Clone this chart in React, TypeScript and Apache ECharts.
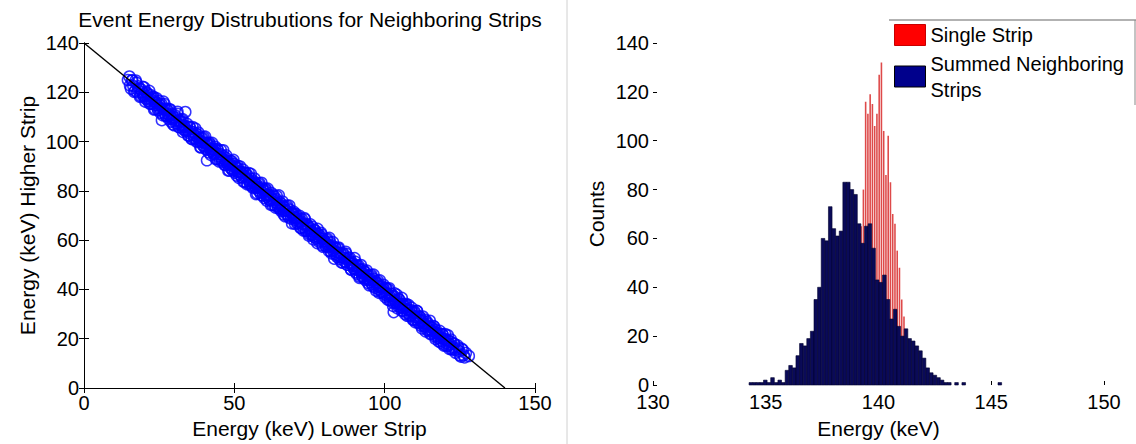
import React, { useEffect, useRef } from "react";
import * as echarts from "echarts";

const FONT = '"Liberation Sans", Arial, Helvetica, sans-serif';

// ---- Left panel: energy split between two neighbouring strips (keV) ----
const lowerAxisTicks = [0, 50, 100, 150];
const higherAxisTicks = [0, 20, 40, 60, 80, 100, 120, 140];

// [lower strip energy, higher strip energy] per event
const stripEvents: [number, number][] = [
  [14.6, 125.0], [15.3, 122.8], [15.9, 124.8], [16.4, 122.6], [17.0, 120.6], [17.4, 123.9], [17.9, 121.0], [18.3, 121.5],
  [18.6, 118.2], [19.0, 121.2], [19.3, 120.0], [19.7, 118.7], [20.0, 122.0], [20.2, 118.9], [20.6, 117.3], [20.9, 119.6],
  [21.2, 117.5], [21.5, 118.4], [21.8, 115.4], [22.1, 118.9], [22.4, 117.0], [22.6, 115.4], [22.9, 118.0], [23.3, 113.0],
  [23.5, 116.2], [23.8, 114.8], [24.1, 117.6], [24.4, 114.8], [24.6, 112.8], [24.9, 115.4], [25.2, 113.6], [25.5, 114.5],
  [25.9, 108.7], [26.1, 113.4], [26.4, 116.2], [26.7, 111.6], [27.0, 112.9], [27.2, 110.5], [27.5, 113.3], [27.8, 111.3],
  [28.1, 110.4], [28.3, 113.2], [28.6, 110.7], [28.9, 108.1], [29.2, 111.2], [29.5, 109.4], [29.7, 109.9], [30.0, 106.6],
  [30.3, 109.8], [30.6, 108.4], [30.8, 107.6], [31.1, 112.1], [31.4, 108.4], [31.7, 105.8], [32.0, 108.6], [32.2, 106.5],
  [32.5, 106.9], [32.8, 109.1], [33.1, 104.9], [33.4, 105.8], [33.7, 112.0], [33.9, 104.5], [34.2, 106.1], [34.5, 104.5],
  [34.8, 102.5], [35.1, 106.0], [35.3, 103.3], [35.6, 104.1], [35.9, 101.0], [36.2, 103.8], [36.5, 102.6], [36.7, 101.5],
  [37.0, 105.3], [37.3, 102.2], [37.6, 100.2], [37.9, 102.8], [38.1, 100.8], [38.4, 101.4], [38.7, 97.7], [39.0, 101.4],
  [39.3, 99.9], [39.5, 98.6], [39.8, 101.8], [40.1, 99.3], [40.4, 97.2], [40.9, 92.4], [40.7, 99.5], [41.0, 97.8],
  [41.2, 98.7], [41.5, 95.6], [41.8, 99.1], [42.1, 96.9], [42.4, 96.1], [42.6, 99.5], [42.9, 96.7], [43.2, 95.1],
  [43.5, 97.0], [43.8, 92.9], [44.0, 95.3], [44.3, 97.1], [44.6, 94.1], [44.9, 94.9], [45.2, 92.7], [45.4, 94.9],
  [45.7, 93.4], [46.0, 92.4], [46.3, 96.5], [46.6, 92.9], [46.8, 90.6], [47.1, 93.5], [47.4, 91.5], [47.7, 92.0],
  [48.0, 88.2], [48.2, 91.9], [48.5, 90.7], [48.8, 89.3], [49.1, 92.1], [49.4, 90.0], [49.6, 88.1], [49.9, 90.9],
  [50.2, 88.4], [50.5, 89.4], [50.8, 86.2], [51.0, 89.4], [51.3, 87.7], [51.6, 86.7], [51.9, 89.9], [52.2, 87.4],
  [52.4, 85.6], [52.7, 87.5], [53.0, 83.8], [53.3, 86.0], [53.6, 87.4], [53.8, 85.0], [54.1, 85.6], [54.4, 83.1],
  [54.7, 86.0], [55.0, 84.1], [55.2, 83.2], [55.5, 86.9], [55.8, 83.6], [56.1, 81.7], [56.4, 83.9], [56.6, 82.3],
  [56.9, 83.0], [57.2, 78.7], [57.5, 82.5], [57.8, 81.4], [58.0, 80.2], [58.3, 83.2], [58.6, 80.9], [58.9, 78.4],
  [59.2, 81.3], [59.4, 79.3], [59.7, 80.1], [60.0, 77.1], [60.3, 80.6], [60.6, 78.4], [60.8, 77.7], [61.1, 80.9],
  [61.4, 78.2], [61.7, 76.4], [62.0, 78.2], [62.2, 74.3], [62.5, 76.8], [62.8, 78.5], [63.1, 75.5], [63.4, 76.3],
  [63.6, 74.0], [63.9, 76.7], [64.2, 74.9], [64.5, 73.8], [64.8, 78.2], [65.0, 74.4], [65.3, 72.6], [65.6, 74.8],
  [65.9, 72.9], [66.2, 73.7], [66.4, 70.5], [66.7, 73.4], [67.0, 72.2], [67.3, 70.7], [67.6, 74.0], [67.8, 71.7],
  [68.1, 69.3], [68.4, 72.4], [68.7, 70.0], [69.0, 70.8], [69.2, 66.8], [69.5, 70.8], [69.8, 69.2], [70.1, 68.3],
  [70.4, 70.7], [70.6, 69.0], [70.9, 66.8], [71.2, 69.4], [71.5, 67.4], [71.8, 67.5], [72.0, 65.0], [72.3, 67.7],
  [72.6, 66.5], [72.9, 65.3], [73.2, 69.0], [73.4, 66.3], [73.7, 63.8], [74.0, 66.5], [74.3, 64.3], [74.6, 64.8],
  [74.8, 61.8], [75.1, 65.1], [75.4, 63.6], [75.7, 62.3], [76.0, 65.4], [76.2, 63.3], [76.5, 61.3], [76.8, 63.9],
  [77.1, 61.7], [77.4, 62.5], [77.6, 58.8], [77.9, 62.5], [78.2, 61.0], [78.5, 59.8], [78.8, 63.0], [79.0, 60.6],
  [79.3, 57.9], [79.6, 60.5], [79.9, 59.0], [80.2, 59.5], [80.4, 57.5], [80.7, 60.2], [81.0, 58.1], [81.3, 57.2],
  [81.6, 60.9], [81.8, 57.6], [82.1, 55.5], [82.4, 57.9], [82.7, 56.0], [83.0, 56.8], [83.2, 52.5], [83.5, 57.1],
  [83.8, 55.2], [84.1, 54.0], [84.4, 56.8], [84.6, 54.9], [84.9, 52.4], [85.2, 54.8], [85.5, 53.1], [85.8, 54.1],
  [86.0, 50.9], [86.3, 54.2], [86.6, 52.7], [86.9, 51.3], [87.2, 54.5], [87.4, 52.2], [87.7, 50.0], [88.0, 52.8],
  [88.3, 50.6], [88.6, 50.6], [88.8, 48.2], [89.1, 51.1], [89.4, 49.6], [89.7, 48.7], [90.0, 52.7], [90.2, 49.5],
  [90.5, 47.0], [90.8, 49.6], [91.1, 47.7], [91.4, 48.1], [91.6, 44.7], [91.9, 48.2], [92.2, 46.9], [92.5, 45.5],
  [92.8, 48.2], [93.0, 46.4], [93.3, 44.5], [93.6, 47.0], [93.9, 44.7], [94.2, 45.6], [94.4, 42.7], [94.7, 45.6],
  [95.0, 44.0], [95.3, 43.0], [95.6, 45.9], [95.8, 43.8], [96.1, 41.3], [96.4, 44.3], [96.7, 42.2], [97.0, 42.9],
  [97.2, 39.5], [97.5, 42.5], [97.8, 41.4], [98.1, 40.0], [98.4, 43.7], [98.6, 40.9], [98.9, 38.7], [99.2, 41.3],
  [99.5, 39.2], [99.8, 39.9], [100.0, 37.9], [100.3, 40.6], [100.6, 38.5], [100.9, 37.5], [101.2, 40.1], [101.4, 37.9],
  [101.7, 35.5], [102.0, 38.2], [102.3, 36.5], [102.6, 37.2], [102.8, 33.3], [103.0, 30.8], [103.1, 37.3], [103.4, 35.6],
  [103.7, 34.5], [104.0, 37.9], [104.2, 35.4], [104.5, 33.2], [104.8, 35.8], [105.1, 33.8], [105.4, 34.0], [105.6, 31.4],
  [105.9, 34.2], [106.2, 32.4], [106.5, 33.2], [106.8, 30.0], [107.0, 33.8], [107.3, 31.9], [107.6, 30.4], [107.9, 33.7],
  [108.2, 31.3], [108.4, 29.1], [108.7, 31.6], [109.0, 29.7], [109.3, 30.6], [109.6, 27.7], [109.8, 30.7], [110.1, 28.9],
  [110.4, 27.9], [110.7, 31.3], [111.0, 28.6], [111.2, 26.6], [111.5, 29.2], [111.8, 27.1], [112.1, 27.2], [112.4, 24.2],
  [112.6, 27.4], [112.9, 26.2], [113.2, 25.0], [113.5, 27.7], [113.8, 25.7], [114.0, 23.6], [114.3, 26.1], [114.6, 24.0],
  [114.9, 24.9], [115.2, 21.9], [115.4, 24.8], [115.7, 23.3], [116.0, 22.4], [116.3, 25.1], [116.6, 22.8], [116.8, 20.9],
  [117.1, 23.5], [117.4, 21.4], [117.7, 22.0], [118.0, 18.9], [118.3, 22.0], [118.6, 20.5], [118.9, 19.2], [119.2, 21.8],
  [119.5, 20.0], [119.8, 17.6], [120.1, 19.9], [120.4, 18.3], [120.7, 19.2], [121.0, 21.4], [121.3, 17.2], [121.6, 17.8],
  [121.9, 18.8], [122.3, 15.6], [122.7, 16.6], [123.1, 18.0], [123.5, 15.4], [124.0, 15.8], [124.5, 16.4], [125.0, 13.3],
  [125.6, 16.0], [126.3, 13.3], [127.0, 14.2], [128.0, 13.0],
  [15.1, 126.4], [15.6, 121.5], [16.1, 124.9], [16.7, 120.2], [17.2, 124.8], [17.7, 120.0], [18.1, 122.4], [18.8, 118.6],
  [19.5, 122.2], [19.9, 118.5], [20.4, 116.2], [20.8, 120.1], [21.3, 116.6], [21.7, 120.6], [22.2, 115.3], [22.7, 117.6],
  [23.1, 118.2], [23.6, 113.2], [24.0, 115.7], [24.5, 113.6], [25.0, 116.5], [25.4, 111.7], [25.8, 115.2], [26.3, 110.6],
  [26.8, 115.2], [27.3, 110.4], [27.7, 112.8], [28.2, 109.2], [28.7, 113.0], [29.1, 109.3], [29.6, 107.0], [30.1, 110.8],
  [30.5, 107.4], [31.0, 111.3], [31.5, 106.0], [31.9, 108.4], [32.4, 108.9], [32.9, 103.9], [33.3, 106.4], [33.8, 104.3],
  [34.3, 107.2], [34.7, 102.4], [35.2, 105.8], [35.7, 101.2], [36.1, 105.9], [36.6, 101.1], [37.1, 103.4], [37.5, 99.9],
  [38.0, 103.7], [38.5, 99.9], [38.9, 97.7], [39.4, 101.5], [39.9, 98.0], [40.3, 102.0], [40.8, 96.7], [41.3, 99.0],
  [41.7, 99.6], [42.2, 94.6], [42.7, 97.0], [43.1, 95.0], [43.6, 97.9], [44.1, 93.0], [44.5, 96.5], [45.0, 91.9],
  [45.5, 96.5], [45.9, 91.8], [46.4, 94.1], [46.9, 90.5], [47.3, 94.4], [47.8, 90.6], [48.3, 88.3], [48.7, 92.2],
  [49.2, 88.7], [49.7, 92.6], [50.1, 87.4], [50.6, 89.7], [51.1, 90.2], [51.5, 85.3], [52.0, 87.7], [52.5, 85.6],
  [52.9, 88.6], [53.4, 83.7], [53.9, 87.1], [54.3, 82.6], [54.8, 87.2], [55.3, 82.4], [55.7, 84.8], [56.2, 81.2],
  [56.7, 85.0], [57.1, 81.3], [57.6, 79.0], [58.1, 82.8], [58.5, 79.4], [59.0, 83.3], [59.5, 78.0], [59.9, 80.4],
  [60.4, 80.9], [60.9, 75.9], [61.3, 78.4], [61.8, 76.3], [62.3, 79.2], [62.7, 74.4], [63.2, 77.8], [63.7, 73.2],
  [64.1, 77.9], [64.6, 73.1], [65.1, 75.4], [65.5, 71.9], [66.0, 75.7], [66.5, 71.9], [66.9, 69.7], [67.4, 73.5],
  [67.9, 70.0], [68.3, 74.0], [68.8, 68.7], [69.3, 71.0], [69.7, 71.6], [70.2, 66.6], [70.7, 69.0], [71.1, 67.0],
  [71.6, 69.9], [72.1, 65.0], [72.5, 68.5], [73.0, 63.9], [73.5, 68.5], [73.9, 63.8], [74.4, 66.1], [74.9, 62.5],
  [75.3, 66.4], [75.8, 62.6], [76.3, 60.3], [76.7, 64.2], [77.2, 60.7], [77.7, 64.6], [78.1, 59.4], [78.6, 61.7],
  [79.1, 62.2], [79.5, 57.3], [80.0, 59.7], [80.5, 57.6], [80.9, 60.6], [81.4, 55.7], [81.9, 59.1], [82.3, 54.6],
  [82.8, 59.2], [83.3, 54.4], [83.7, 56.8], [84.2, 53.2], [84.7, 57.0], [85.1, 53.3], [85.6, 51.0], [86.1, 54.8],
  [86.5, 51.4], [87.0, 55.3], [87.5, 50.0], [87.9, 52.4], [88.4, 52.9], [88.9, 47.9], [89.3, 50.4], [89.8, 48.3],
  [90.3, 51.2], [90.7, 46.4], [91.2, 49.8], [91.7, 45.2], [92.1, 49.9], [92.6, 45.1], [93.1, 47.4], [93.5, 43.9],
  [94.0, 47.7], [94.5, 43.9], [94.9, 41.7], [95.4, 45.5], [95.9, 42.0], [96.3, 46.0], [96.8, 40.7], [97.3, 43.0],
  [97.7, 43.6], [98.2, 38.6], [98.7, 41.0], [99.1, 39.0], [99.6, 41.9], [100.1, 37.0], [100.5, 40.5], [101.0, 35.9],
  [101.5, 40.5], [101.9, 35.8], [102.4, 38.1], [102.9, 34.5], [103.3, 38.4], [103.8, 34.6], [104.3, 32.3], [104.7, 36.2],
  [105.2, 32.7], [105.7, 36.6], [106.1, 31.4], [106.6, 33.7], [107.1, 34.2], [107.5, 29.3], [108.0, 31.7], [108.5, 29.6],
  [108.9, 32.6], [109.4, 27.7], [109.9, 31.1], [110.3, 26.6], [110.8, 31.2], [111.3, 26.4], [111.7, 28.8], [112.2, 25.2],
  [112.7, 29.0], [113.1, 25.3], [113.6, 23.0], [114.1, 26.8], [114.5, 23.4], [115.0, 27.3], [115.5, 22.0], [115.9, 24.4],
  [116.4, 24.9], [116.9, 19.9], [117.3, 22.4], [117.8, 20.3], [118.3, 23.2], [118.7, 18.4], [119.2, 21.8], [119.7, 17.2],
  [120.1, 21.9], [120.6, 17.1], [121.1, 19.4], [121.5, 15.9], [122.0, 19.7], [122.5, 15.9], [123.0, 18.0], [123.6, 14.3],
  [124.2, 17.3], [124.8, 14.9], [125.4, 12.7], [126.0, 15.5], [126.6, 12.4],
];

// Full-energy line: lower + higher = 140 keV
const fullEnergyLine: [number, number][] = [[0, 140], [140, 0]];

// ---- Right panel: energy spectra ----
const energyTicks = [130, 135, 140, 145, 150];
const countTicks = [0, 20, 40, 60, 80, 100, 120, 140];

const SINGLE_NAME = "Single Strip";
const SUMMED_NAME = "Summed Neighboring Strips";

const singleStripBinStart = 139.18;
const singleStripBinWidth = 0.1;
const singleStripCounts = [
  65, 80, 116, 111, 119, 115, 106, 111, 127, 132, 104, 86, 102, 83, 70, 66, 55, 48, 35, 28, 22,
];

const summedBinStart = 134.26;
const summedBinWidth = 0.16;
const summedCounts = [
  1, 1, 1, 1, 2, 1, 3, 1, 2, 1,
  6, 8, 7, 12, 17, 16, 19, 22, 35, 40,
  60, 59, 73, 64, 61, 63, 83, 83, 80, 78,
  66, 58, 65, 66, 56, 43, 42, 45, 35, 27,
  31, 24, 20, 23, 19, 18, 16, 14, 11, 7,
  5, 4, 3, 2, 1, 1, 0, 1, 0, 1,
  0, 0, 0, 0, 0, 0, 0, 0, 0, 1,
];

const toBins = (start: number, width: number, counts: number[]) =>
  counts
    .map((c, i) => [start + i * width, start + (i + 1) * width, c])
    .filter((d) => d[2] > 0);

const histogramRenderer =
  (fill: string, stroke: string, lineWidth: number, fraction: number) =>
  (_params: any, api: any) => {
    const top = api.coord([api.value(0), api.value(2)]);
    const base = api.coord([api.value(1), 0]);
    const w = base[0] - top[0];
    return {
      type: "rect",
      shape: {
        x: top[0] + (w * (1 - fraction)) / 2,
        y: top[1],
        width: w * fraction,
        height: base[1] - top[1],
      },
      style: { fill, stroke, lineWidth },
    };
  };

const axisText = { fontFamily: FONT, fontSize: 20, color: "#000" };
const nameText = { fontFamily: FONT, fontSize: 21, color: "#000" };

export default function App() {
  const ref = useRef<HTMLDivElement>(null);

  useEffect(() => {
    if (!ref.current) return;
    const chart = echarts.init(ref.current, undefined, { renderer: "svg" });

    const boxAxis = {
      axisLine: { show: true, lineStyle: { color: "#000", width: 1 } },
      axisTick: { show: true, inside: true, length: 5, lineStyle: { color: "#000" } },
      splitLine: { show: false },
    };

    chart.setOption({
      animation: false,
      backgroundColor: "#fff",
      textStyle: { fontFamily: FONT },
      title: {
        text: "Event Energy Distrubutions for Neighboring Strips",
        left: 310,
        top: 9,
        padding: 0,
        textAlign: "center",
        textStyle: { fontFamily: FONT, fontSize: 21, fontWeight: "normal", color: "#000" },
      },
      legend: {
        orient: "vertical",
        left: 894,
        top: 22,
        padding: 0,
        itemWidth: 31,
        itemHeight: 21,
        itemGap: 2.5,
        icon: "rect",
        selectedMode: false,
        textStyle: { fontFamily: FONT, fontSize: 20, color: "#000", lineHeight: 26 },
        formatter: (name: string) => (name === SUMMED_NAME ? "Summed Neighboring\nStrips" : name),
        data: [
          { name: SINGLE_NAME, itemStyle: { color: "#ff0000", borderColor: "#c80000", borderWidth: 1 } },
          { name: SUMMED_NAME, itemStyle: { color: "#00008c", borderColor: "#000", borderWidth: 1 } },
        ],
      },
      grid: [
        { left: 84, top: 43, width: 451, height: 345 },
        { left: 653, top: 43, width: 451, height: 345 },
      ],
      xAxis: [
        {
          gridIndex: 0,
          type: "value",
          position: "bottom",
          min: lowerAxisTicks[0],
          max: lowerAxisTicks[lowerAxisTicks.length - 1],
          interval: lowerAxisTicks[1] - lowerAxisTicks[0],
          ...boxAxis,
          axisLabel: { ...axisText, margin: 5 },
          name: "Energy (keV) Lower Strip",
          nameLocation: "middle",
          nameGap: 30,
          nameTextStyle: nameText,
        },
        {
          gridIndex: 0,
          type: "value",
          position: "top",
          min: lowerAxisTicks[0],
          max: lowerAxisTicks[lowerAxisTicks.length - 1],
          interval: lowerAxisTicks[1] - lowerAxisTicks[0],
          ...boxAxis,
          axisLabel: { show: false },
        },
        {
          gridIndex: 1,
          type: "value",
          position: "bottom",
          min: energyTicks[0],
          max: energyTicks[energyTicks.length - 1],
          interval: energyTicks[1] - energyTicks[0],
          axisLine: { show: false },
          axisTick: { show: true, inside: true, length: 4, lineStyle: { color: "#000" } },
          splitLine: { show: false },
          axisLabel: { ...axisText, margin: 7 },
          name: "Energy (keV)",
          nameLocation: "middle",
          nameGap: 33,
          nameTextStyle: nameText,
        },
      ],
      yAxis: [
        {
          gridIndex: 0,
          type: "value",
          position: "left",
          min: higherAxisTicks[0],
          max: higherAxisTicks[higherAxisTicks.length - 1],
          interval: higherAxisTicks[1] - higherAxisTicks[0],
          ...boxAxis,
          axisLabel: { ...axisText, margin: 5 },
          name: "Energy (keV) Higher Strip",
          nameLocation: "middle",
          nameGap: 46,
          nameTextStyle: nameText,
        },
        {
          gridIndex: 0,
          type: "value",
          position: "right",
          min: higherAxisTicks[0],
          max: higherAxisTicks[higherAxisTicks.length - 1],
          interval: higherAxisTicks[1] - higherAxisTicks[0],
          ...boxAxis,
          axisLabel: { show: false },
        },
        {
          gridIndex: 1,
          type: "value",
          position: "left",
          min: countTicks[0],
          max: countTicks[countTicks.length - 1],
          interval: countTicks[1] - countTicks[0],
          axisLine: { show: false },
          axisTick: { show: true, inside: true, length: 4, lineStyle: { color: "#000" } },
          splitLine: { show: false },
          axisLabel: { ...axisText, margin: 4 },
          name: "Counts",
          nameLocation: "middle",
          nameGap: 46,
          nameTextStyle: nameText,
        },
      ],
      series: [
        {
          name: "Events",
          type: "scatter",
          xAxisIndex: 0,
          yAxisIndex: 0,
          data: stripEvents,
          symbol: "circle",
          symbolSize: 11,
          silent: true,
          itemStyle: { color: "rgba(0,0,0,0)", borderColor: "#0000ff", borderWidth: 1.5 },
          z: 2,
        },
        {
          name: "Full energy",
          type: "line",
          xAxisIndex: 0,
          yAxisIndex: 0,
          data: fullEnergyLine,
          symbol: "none",
          silent: true,
          lineStyle: { color: "#000", width: 1.4 },
          z: 3,
        },
        {
          name: SINGLE_NAME,
          type: "custom",
          xAxisIndex: 2,
          yAxisIndex: 2,
          data: toBins(singleStripBinStart, singleStripBinWidth, singleStripCounts),
          encode: { x: [0, 1], y: 2 },
          renderItem: histogramRenderer("rgb(222,74,74)", "none", 0, 0.7),
          silent: true,
          z: 2,
        },
        {
          name: SUMMED_NAME,
          type: "custom",
          xAxisIndex: 2,
          yAxisIndex: 2,
          data: toBins(summedBinStart, summedBinWidth, summedCounts),
          encode: { x: [0, 1], y: 2 },
          renderItem: histogramRenderer("#0a0a58", "#02022e", 0.6, 1),
          silent: true,
          z: 3,
        },
      ],
      graphic: [
        {
          type: "line",
          shape: { x1: 567, y1: 0, x2: 567, y2: 444 },
          style: { stroke: "#d0d0d0", lineWidth: 1 },
          silent: true,
        },
        {
          type: "line",
          shape: { x1: 889, y1: 20, x2: 1136, y2: 20 },
          style: { stroke: "#666", lineWidth: 1.2 },
          silent: true,
        },
        {
          type: "line",
          shape: { x1: 1135, y1: 20, x2: 1135, y2: 105 },
          style: { stroke: "#888", lineWidth: 1 },
          silent: true,
        },
      ],
    });

    return () => chart.dispose();
  }, []);

  return (
    <div
      ref={ref}
      style={{ position: "fixed", left: 0, top: 0, width: 1136, height: 444, background: "#fff" }}
    />
  );
}
